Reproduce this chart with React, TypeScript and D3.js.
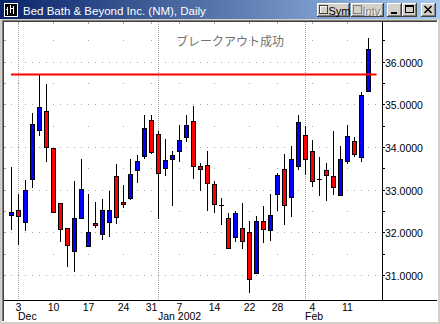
import React from "react";
import * as d3 from "d3";

const dates = [
  "2001-11-30",
  "2001-12-03", "2001-12-04", "2001-12-05", "2001-12-06", "2001-12-07",
  "2001-12-10", "2001-12-11", "2001-12-12", "2001-12-13", "2001-12-14",
  "2001-12-17", "2001-12-18", "2001-12-19", "2001-12-20", "2001-12-21",
  "2001-12-24", "2001-12-26", "2001-12-27", "2001-12-28",
  "2001-12-31", "2002-01-02", "2002-01-03", "2002-01-04",
  "2002-01-07", "2002-01-08", "2002-01-09", "2002-01-10", "2002-01-11",
  "2002-01-14", "2002-01-15", "2002-01-16", "2002-01-17", "2002-01-18",
  "2002-01-22", "2002-01-23", "2002-01-24", "2002-01-25",
  "2002-01-28", "2002-01-29", "2002-01-30", "2002-01-31", "2002-02-01",
  "2002-02-04", "2002-02-05", "2002-02-06", "2002-02-07", "2002-02-08",
  "2002-02-11", "2002-02-12", "2002-02-13", "2002-02-14",
];

const opens = [
  32.41, 32.52, 32.25, 33.24, 34.41, 34.84, 33.97, 32.68, 32.09, 31.55,
  32.33, 31.68, 32.21, 31.95, 32.25, 33.31, 32.70, 32.80, 33.45, 33.80,
  34.63, 34.30, 33.50, 33.71, 33.91, 34.24, 34.61, 33.55, 33.57, 33.13,
  32.63, 32.33, 31.88, 32.09, 32.00, 31.05, 32.26, 32.04, 32.89, 33.48,
  32.83, 33.55, 34.27, 33.91, 33.24, 33.45, 33.31, 32.88, 33.67, 34.13,
  33.77, 35.31,
];
const highs = [
  33.52, 32.90, 33.23, 34.79, 35.71, 35.48, 33.97, 32.68, 32.09, 33.20,
  33.73, 32.90, 32.70, 32.78, 32.97, 33.60, 33.11, 33.72, 33.81, 34.75,
  34.75, 34.38, 34.19, 33.91, 34.52, 34.75, 34.96, 33.62, 33.91, 33.20,
  32.81, 32.45, 32.50, 32.68, 32.27, 32.38, 32.62, 32.90, 33.38, 33.84,
  34.02, 34.74, 34.49, 34.16, 33.77, 33.62, 34.38, 34.02, 34.51, 34.24,
  35.30, 36.55,
];
const lows = [
  32.08, 31.73, 32.05, 33.05, 34.28, 33.66, 32.48, 31.80, 31.20, 31.10,
  32.33, 31.68, 32.13, 31.85, 31.90, 32.21, 32.60, 32.77, 33.19, 33.75,
  33.85, 32.34, 33.34, 32.64, 33.68, 34.15, 33.28, 32.99, 32.52, 32.48,
  32.20, 31.64, 31.80, 31.64, 30.59, 31.04, 31.76, 31.82, 32.52, 32.20,
  32.38, 33.48, 33.36, 33.09, 32.88, 32.76, 32.89, 32.88, 33.62, 33.80,
  33.67, 35.31,
];
const closes = [
  32.47, 32.39, 32.99, 34.54, 34.94, 34.01, 32.48, 32.07, 31.70, 32.33,
  33.01, 32.00, 32.16, 32.52, 32.52, 32.35, 32.66, 33.36, 33.67, 34.44,
  33.89, 33.38, 33.70, 33.81, 34.16, 34.52, 33.56, 33.49, 33.15, 32.66,
  32.63, 31.64, 32.45, 31.80, 30.90, 32.26, 32.07, 32.41, 33.34, 32.63,
  33.71, 34.59, 33.73, 33.20, 33.24, 33.34, 33.07, 33.73, 34.25, 33.83,
  35.23, 36.29,
];

const yTicks = [31, 32, 33, 34, 35, 36];
const yHalfTicks = [31.5, 32.5, 33.5, 34.5, 35.5, 36.5];
const breakoutLevel = 35.71;
const titleText = "Bed Bath & Beyond Inc. (NM), Daily";
const annotationText = "ブレークアウト成功";

const FACE = "#D4D0C8";
const LATIN = "'Liberation Sans', Arial, sans-serif";

function Button3D({ x, y, w, h }: { x: number; y: number; w: number; h: number }) {
  return (
    <g shapeRendering="crispEdges">
      <rect x={x} y={y} width={w} height={h} fill={FACE} />
      <line x1={x} y1={y + 0.5} x2={x + w - 1} y2={y + 0.5} stroke="#FFFFFF" />
      <line x1={x + 0.5} y1={y} x2={x + 0.5} y2={y + h - 1} stroke="#FFFFFF" />
      <line x1={x} y1={y + h - 0.5} x2={x + w} y2={y + h - 0.5} stroke="#404040" />
      <line x1={x + w - 0.5} y1={y} x2={x + w - 0.5} y2={y + h} stroke="#404040" />
      <line x1={x + 1} y1={y + h - 1.5} x2={x + w - 1} y2={y + h - 1.5} stroke="#808080" />
      <line x1={x + w - 1.5} y1={y + 1} x2={x + w - 1.5} y2={y + h - 1} stroke="#808080" />
    </g>
  );
}

export default function App() {
  const W = 440;
  const H = 324;
  const plotLeft = 4;
  const plotTop = 22;
  const axisX = 382;
  const axisY = 300;

  const parse = d3.timeParse("%Y-%m-%d");
  const ds = dates.map((d) => parse(d) as Date);
  const step = 7;
  const x = d3
    .scalePoint<string>()
    .domain(dates)
    .range([11.5, 11.5 + step * (dates.length - 1)]);
  const y = d3.scaleLinear().domain([31, 36]).range([275.3, 62.3]);
  const py = (v: number) => Math.floor(y(v)) + 0.5;

  const weekStarts: number[] = [];
  const monthStarts: number[] = [];
  ds.forEach((d, i) => {
    if (i === 0) return;
    const prev = ds[i - 1];
    if (d.getDay() < prev.getDay()) weekStarts.push(i);
    if (d.getMonth() !== prev.getMonth()) monthStarts.push(i);
  });
  const monthFmt = (d: Date) =>
    d.getMonth() === 0 ? d3.timeFormat("%b %Y")(d) : d3.timeFormat("%b")(d);

  const dotXs: number[] = [];
  for (let k = -1; ; k++) {
    const px = (x(dates[0]) as number) + k * step;
    if (px >= axisX) break;
    dotXs.push(Math.floor(px));
  }
  const weekXs = weekStarts.map((i) => Math.floor(x(dates[i]) as number));
  const monthXs = monthStarts.map((i) => Math.floor(x(dates[i]) as number) + 0.5);

  const fmtY = d3.format(".4f");

  return (
    <svg
      width={W}
      height={H}
      style={{ position: "absolute", left: 0, top: 0 }}
      xmlns="http://www.w3.org/2000/svg"
    >
      <defs>
        <linearGradient id="tb" x1="0" x2="1" y1="0" y2="0">
          <stop offset="0" stopColor="#0A246A" />
          <stop offset="1" stopColor="#A6CAF0" />
        </linearGradient>
        <clipPath id="plotClip">
          <rect x={plotLeft} y={plotTop} width={axisX - plotLeft} height={axisY - plotTop} />
        </clipPath>
      </defs>

      <rect x={0} y={0} width={W} height={H} fill={FACE} />
      <rect x={0} y={0} width={W} height={19} fill="url(#tb)" />

      <g shapeRendering="crispEdges">
        <rect x={4} y={3} width={14} height={14} fill="#000" />
        <rect x={4.5} y={3.5} width={13} height={13} fill="none" stroke="#FFF" />
        <line x1={7.5} y1={7} x2={7.5} y2={15} stroke="#FFF" />
        <line x1={10.5} y1={5} x2={10.5} y2={13} stroke="#FFF" />
        <line x1={13.5} y1={6} x2={13.5} y2={14} stroke="#FFF" />
        <line x1={6} y1={9.5} x2={8} y2={9.5} stroke="#FFF" />
        <line x1={11} y1={8.5} x2={13} y2={8.5} stroke="#FFF" />
      </g>
      <text x={23} y={15} fill="#FFFFFF" fontFamily={LATIN} fontSize={11.5}>
        {titleText}
      </text>

      <Button3D x={317} y={3} w={33} h={14} />
      <g shapeRendering="crispEdges">
        <rect x={319.5} y={5.5} width={8} height={8} fill={FACE} stroke="#404040" />
        <line x1={320} y1={6.5} x2={327} y2={6.5} stroke="#FFF" />
        <line x1={320.5} y1={6} x2={320.5} y2={13} stroke="#FFF" />
      </g>
      <text x={328.5} y={14.5} fill="#000" fontFamily={LATIN} fontSize={11}>
        Sym
      </text>
      <Button3D x={351} y={3} w={33} h={14} />
      <g shapeRendering="crispEdges">
        <rect x={353.5} y={5.5} width={8} height={8} fill={FACE} stroke="#808080" />
      </g>
      <text x={363.5} y={15.5} fill="#FFFFFF" fontFamily={LATIN} fontSize={11}>
        Intv
      </text>
      <text x={362.5} y={14.5} fill="#808080" fontFamily={LATIN} fontSize={11}>
        Intv
      </text>
      <Button3D x={387} y={3} w={15} h={14} />
      <rect x={391} y={12} width={6} height={2} fill="#000" />
      <Button3D x={402} y={3} w={15} h={14} />
      <g shapeRendering="crispEdges">
        <rect x={405.5} y={5.5} width={8} height={7} fill="none" stroke="#000" />
        <line x1={405} y1={6.5} x2={414} y2={6.5} stroke="#000" />
      </g>
      <Button3D x={421} y={3} w={15} h={14} />
      <path d="M424.5,6 L431.5,13 M431.5,6 L424.5,13" stroke="#000" strokeWidth={1.6} />

      <g shapeRendering="crispEdges">
        <line x1={2.5} y1={20} x2={2.5} y2={322} stroke="#808080" />
        <line x1={2} y1={20.5} x2={438} y2={20.5} stroke="#808080" />
        <line x1={3.5} y1={21} x2={3.5} y2={321} stroke="#404040" />
        <line x1={3} y1={21.5} x2={437} y2={21.5} stroke="#404040" />
        <rect x={4} y={22} width={433} height={299} fill="#FFFFFF" />
        <line x1={437.5} y1={20} x2={437.5} y2={322} stroke="#FFFFFF" />
        <line x1={2} y1={321.5} x2={438} y2={321.5} stroke="#FFFFFF" />
      </g>

      <g shapeRendering="crispEdges" fill="#A8A8A8">
        {yTicks.map((t) =>
          dotXs.map((dx) => (
            <rect key={`f${t}-${dx}`} x={dx} y={Math.floor(y(t))} width={1} height={1} />
          ))
        )}
        {yHalfTicks.map((t) =>
          weekXs.map((dx) => (
            <rect key={`h${t}-${dx}`} x={dx} y={Math.floor(y(t))} width={1} height={1} />
          ))
        )}
        {weekXs.map((dx) => (
          <rect key={`tt${dx}`} x={dx} y={plotTop} width={1} height={2} />
        ))}
        {[...yTicks, ...yHalfTicks].map((t) => (
          <rect key={`lt${t}`} x={plotLeft} y={Math.floor(y(t))} width={2} height={1} />
        ))}
      </g>
      <g shapeRendering="crispEdges">
        {monthXs.map((mx) => (
          <line
            key={`m${mx}`}
            x1={mx}
            x2={mx}
            y1={plotTop}
            y2={axisY}
            stroke="#A8A8A8"
            strokeDasharray="1 1"
          />
        ))}
      </g>

      <text
        x={176}
        y={46}
        fill="#707070"
        fontFamily="'Noto Sans CJK JP', sans-serif"
        fontSize={12}
      >
        {annotationText}
      </text>

      <g clipPath="url(#plotClip)" shapeRendering="crispEdges">
        {dates.map((d, i) => {
          const cx = x(d) as number;
          const o = opens[i];
          const c = closes[i];
          const yh = py(highs[i]);
          const yl = py(lows[i]);
          const yTop = py(Math.max(o, c));
          const yBot = py(Math.min(o, c));
          const up = c > o;
          const doji = yBot - yTop < 1;
          return (
            <g key={d}>
              <line x1={cx} x2={cx} y1={yh - 0.5} y2={yl + 0.5} stroke="#000" />
              {doji ? (
                <line x1={cx - 2.5} x2={cx + 2.5} y1={yTop} y2={yTop} stroke="#000" />
              ) : (
                <rect
                  x={cx - 2}
                  y={yTop}
                  width={4}
                  height={yBot - yTop}
                  fill={up ? "#0000FF" : "#FF0000"}
                  stroke="#000"
                />
              )}
            </g>
          );
        })}
      </g>

      <line
        x1={(x(dates[0]) as number) - 0.5}
        x2={(x(dates[dates.length - 1]) as number) + 8}
        y1={Math.floor(y(breakoutLevel)) + 0.5}
        y2={Math.floor(y(breakoutLevel)) + 0.5}
        stroke="#FF0000"
        strokeWidth={2}
      />

      <g shapeRendering="crispEdges">
        <line x1={axisX + 0.5} x2={axisX + 0.5} y1={plotTop} y2={axisY} stroke="#000" />
        <line x1={plotLeft} x2={437} y1={axisY + 0.5} y2={axisY + 0.5} stroke="#000" />
        {[...yTicks, ...yHalfTicks].map((t) => (
          <line
            key={`yt${t}`}
            x1={axisX}
            x2={axisX + 3}
            y1={Math.floor(y(t)) + 0.5}
            y2={Math.floor(y(t)) + 0.5}
            stroke="#000"
          />
        ))}
      </g>
      {yTicks.map((t) => (
        <text
          key={`yl${t}`}
          x={385}
          y={Math.floor(y(t)) + 4.5}
          fill="#000"
          fontFamily={LATIN}
          fontSize={10.5}
        >
          {fmtY(t)}
        </text>
      ))}
      {weekStarts.map((i) => (
        <text
          key={`xl${i}`}
          x={x(dates[i]) as number}
          y={311}
          textAnchor="middle"
          fill="#000"
          fontFamily={LATIN}
          fontSize={10.5}
        >
          {ds[i].getDate()}
        </text>
      ))}
      {monthStarts.map((i) => (
        <text
          key={`ml${i}`}
          x={Math.floor(x(dates[i]) as number)}
          y={320}
          fill="#000"
          fontFamily={LATIN}
          fontSize={10.5}
        >
          {monthFmt(ds[i])}
        </text>
      ))}
    </svg>
  );
}
